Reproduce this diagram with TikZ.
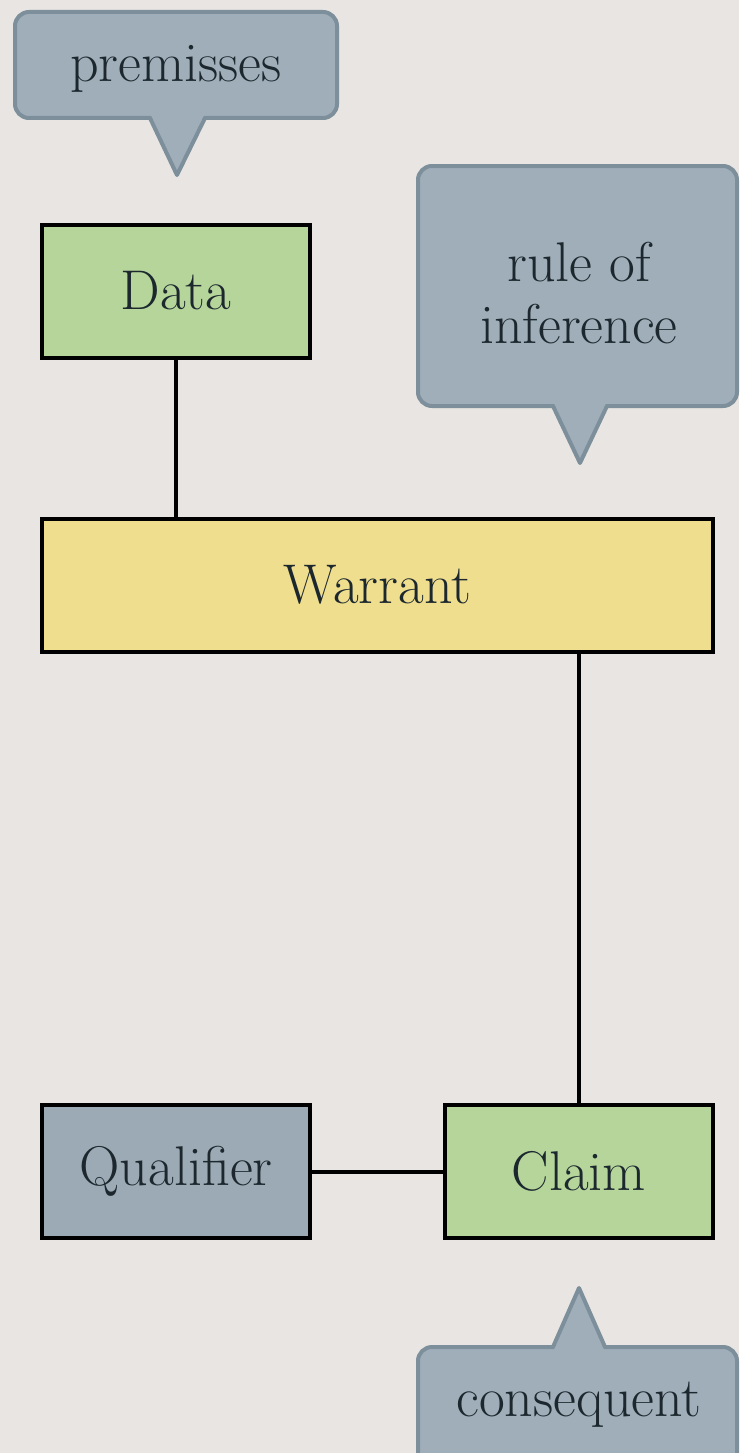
\documentclass[tikz,border=0pt]{standalone}
\usepackage{tikz}
\definecolor{bgc}{HTML}{E8E5E2}
\definecolor{greenc}{HTML}{B5D59B}
\definecolor{yellowc}{HTML}{F0DE8F}
\definecolor{bluec}{HTML}{9CAAB5}
\definecolor{calloutfill}{HTML}{A0AEBA}
\definecolor{calloutdraw}{HTML}{7E8F9C}
\definecolor{textc}{HTML}{1C282E}
\tikzset{
  boxbase/.style={draw=black, line width=4pt, minimum height=133pt, text=textc,
    font=\fontsize{56}{60}\selectfont, inner sep=0pt},
  greenbox/.style={boxbase, fill=greenc, minimum width=268pt},
  bluebox/.style={boxbase, fill=bluec, minimum width=268pt},
  yellowbox/.style={boxbase, fill=yellowc, minimum width=671pt},
  link/.style={draw=black, line width=4pt},
  calloutbox/.style={fill=calloutfill, draw=calloutdraw, line width=4pt, rounded corners=14pt},
  pointerfill/.style={fill=calloutfill},
  pointerline/.style={draw=calloutdraw, line width=4pt, line join=round},
  callouttext/.style={text=textc, font=\fontsize{56}{62}\selectfont, align=center, inner sep=0pt}
}
\begin{document}
\begin{tikzpicture}[x=1pt,y=-1pt]
\useasboundingbox (0,0) rectangle (739,1453);
\fill[bgc] (0,0) rectangle (739,1453);

% callout: premisses
\path[calloutbox] (15,12) rectangle (337,118);
\path[pointerfill] (150,113) -- (205,113) -- (177,175) -- cycle;
\path[pointerline] (150,118) -- (177,175) -- (205,118);
\node[callouttext] (prem) at (176,69) {premisses};

% callout: rule of inference
\path[calloutbox] (418,166) rectangle (737,406);
\path[pointerfill] (553,401) -- (607,401) -- (580,463) -- cycle;
\path[pointerline] (553,406) -- (580,463) -- (607,406);
\node[callouttext] (rule) at (579,293) {rule of\\inference};

% callout: consequent
\path[calloutbox] (418,1347) rectangle (737,1480);
\path[pointerfill] (553,1352) -- (605,1352) -- (579,1288) -- cycle;
\path[pointerline] (553,1347) -- (579,1288) -- (605,1347);
\node[callouttext] (cons) at (579,1405) {consequent};

% boxes
\node[greenbox] (data) at (176,291) {Data};
\node[yellowbox] (warrant) at (377.5,585) {Warrant};
\node[bluebox] (qual) at (176,1171.5) {Qualifier};
\node[greenbox] (claim) at (579,1171.5) {Claim};

% links
\draw[link] (data.south) -- (data.south |- warrant.north);
\draw[link] (claim.north) -- (claim.north |- warrant.south);
\draw[link] (qual.east) -- (claim.west);
\end{tikzpicture}
\end{document}
